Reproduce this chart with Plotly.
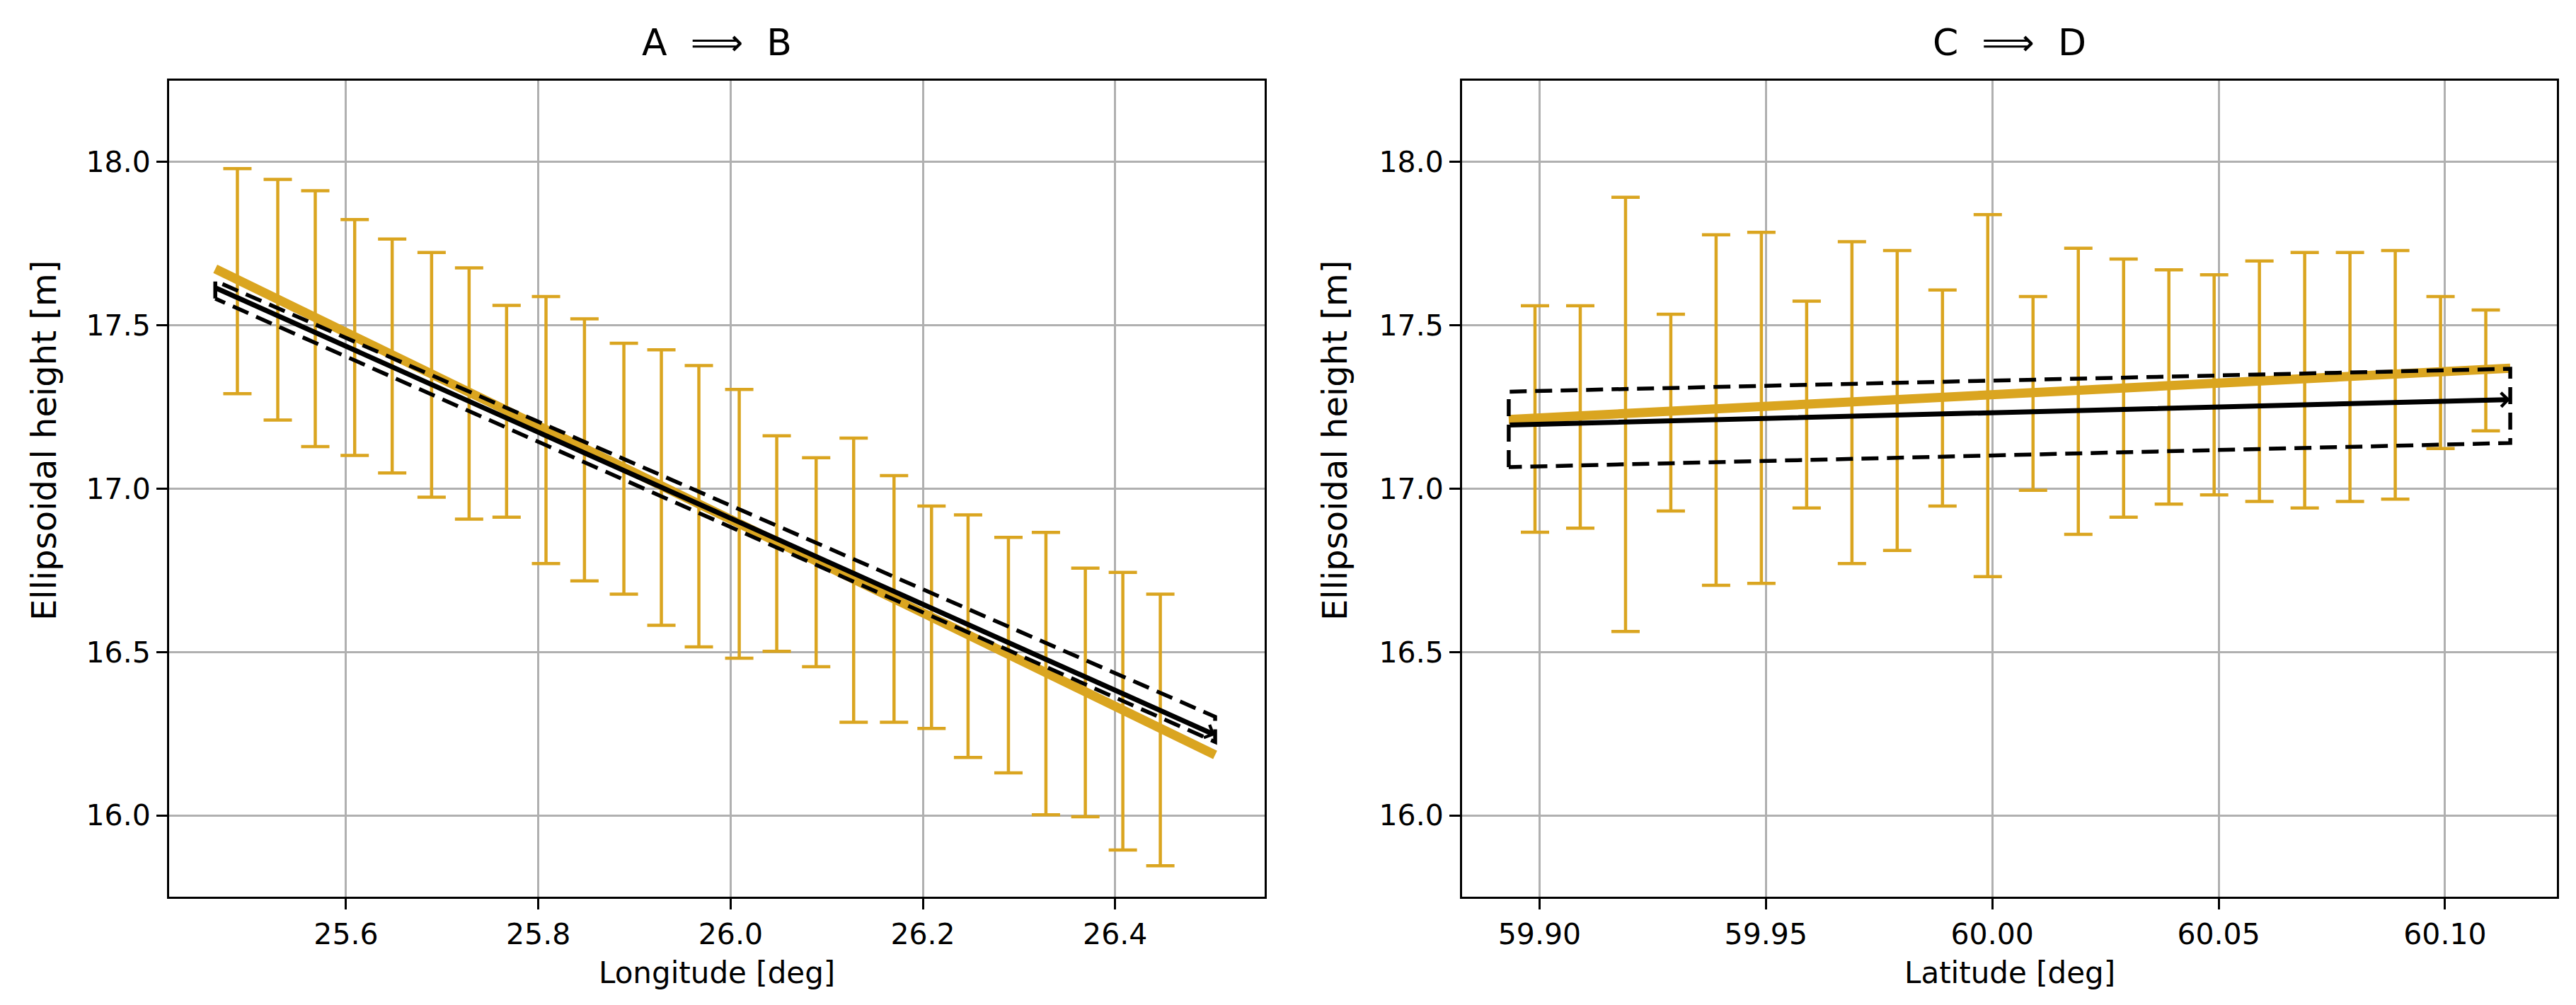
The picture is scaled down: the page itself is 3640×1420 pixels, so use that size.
import plotly.graph_objects as go

# ---- A => B (longitude) ----
lon_ab = [25.487, 25.529, 25.568, 25.609, 25.648, 25.689, 25.728, 25.767, 25.808, 25.848,
          25.889, 25.928, 25.967, 26.009, 26.048, 26.089, 26.128, 26.170, 26.209, 26.247,
          26.289, 26.328, 26.369, 26.408, 26.447]
top_ab = [17.980, 17.947, 17.912, 17.824, 17.764, 17.723, 17.676, 17.561, 17.588, 17.520,
          17.445, 17.425, 17.377, 17.304, 17.162, 17.095, 17.155, 17.040, 16.947, 16.920,
          16.851, 16.866, 16.757, 16.744, 16.677]
bot_ab = [17.291, 17.210, 17.129, 17.102, 17.048, 16.974, 16.907, 16.913, 16.771, 16.718,
          16.677, 16.582, 16.516, 16.481, 16.502, 16.455, 16.285, 16.285, 16.266, 16.177,
          16.130, 16.002, 15.996, 15.894, 15.846]
ends_ab = [25.464, 26.504]
fit_ab = [17.673, 16.185]       # gold line
ref_ab = [17.615, 16.246]       # black arrow
band_hi_ab = [17.636, 16.302]
band_lo_ab = [17.582, 16.225]

# ---- C => D (latitude) ----
lat_cd = [59.899, 59.909, 59.919, 59.929, 59.939, 59.949, 59.959, 59.969, 59.979, 59.989,
          59.999, 60.009, 60.019, 60.029, 60.039, 60.049, 60.059, 60.069, 60.079, 60.089,
          60.099, 60.109]
top_cd = [17.560, 17.560, 17.892, 17.534, 17.777, 17.785, 17.574, 17.756, 17.729, 17.608,
          17.839, 17.588, 17.736, 17.703, 17.670, 17.655, 17.697, 17.723, 17.723, 17.729,
          17.588, 17.547]
bot_cd = [16.867, 16.879, 16.563, 16.932, 16.704, 16.710, 16.941, 16.771, 16.811, 16.947,
          16.731, 16.995, 16.860, 16.913, 16.953, 16.981, 16.961, 16.941, 16.961, 16.968,
          17.123, 17.177]
ends_cd = [59.8932, 60.1144]
fit_cd = [17.212, 17.369]
ref_cd = [17.195, 17.273]
band_hi_cd = [17.297, 17.367]
band_lo_cd = [17.066, 17.140]

titles = ["A  \u27f9  B", "C  \u27f9  D"]
xlabels = ["Longitude [deg]", "Latitude [deg]"]
ylabel = "Ellipsoidal height [m]"

gold = '#DAA520'
FONT = 'DejaVu Sans'
W, H = 3640, 1420

fig = go.Figure()

panels = [
    (lon_ab, top_ab, bot_ab, ends_ab, fit_ab, ref_ab, band_hi_ab, band_lo_ab, 'x', 'y'),
    (lat_cd, top_cd, bot_cd, ends_cd, fit_cd, ref_cd, band_hi_cd, band_lo_cd, 'x2', 'y2'),
]

for xs, tops, bots, ends, fit, ref, bhi, blo, xa, ya in panels:
    mid = [(t + b) / 2 for t, b in zip(tops, bots)]
    half = [(t - b) / 2 for t, b in zip(tops, bots)]
    fig.add_trace(go.Scatter(
        x=xs, y=mid, mode='markers', xaxis=xa, yaxis=ya, showlegend=False,
        marker=dict(size=1, color='rgba(0,0,0,0)'),
        error_y=dict(type='data', array=half, color=gold, thickness=4.5, width=20)
    ))
    fig.add_trace(go.Scatter(
        x=ends, y=fit, mode='lines', xaxis=xa, yaxis=ya, showlegend=False,
        line=dict(color=gold, width=13)
    ))
    # dashed uncertainty outline
    fig.add_trace(go.Scatter(
        x=[ends[0], ends[0], ends[1], ends[1], ends[0]],
        y=[blo[0], bhi[0], bhi[1], blo[1], blo[0]],
        mode='lines', xaxis=xa, yaxis=ya, showlegend=False,
        line=dict(color='black', width=5.5, dash='24px,12px')
    ))
    fig.add_annotation(
        x=ends[1], y=ref[1], ax=ends[0], ay=ref[0],
        xref=xa, yref=ya, axref=xa, ayref=ya, text='',
        showarrow=True, arrowhead=4, arrowsize=0.55, arrowwidth=7,
        arrowcolor='black', standoff=0
    )

axis_common = dict(
    showline=True, mirror=True, linecolor='black', linewidth=3,
    ticks='outside', ticklen=15, tickwidth=3, tickcolor='black',
    showgrid=True, gridcolor='#b0b0b0', gridwidth=3, zeroline=False,
    tickfont=dict(family=FONT, size=41, color='black'),
)

x1_dom = [231 / W, 1779 / W]
x2_dom = [2058 / W, 3605 / W]
y_dom = [(H - 1259) / H, (H - 106) / H]

fig.update_layout(
    width=W, height=H,
    paper_bgcolor='white', plot_bgcolor='white',
    margin=dict(l=0, r=0, t=0, b=0),
    font=dict(family=FONT, color='black'),
    xaxis=dict(domain=x1_dom, anchor='y', range=[25.416, 26.5555],
               tick0=25.6, dtick=0.2, tickformat='.1f', **axis_common),
    yaxis=dict(domain=y_dom, anchor='x', range=[15.751, 18.249],
               tick0=16.0, dtick=0.5, tickformat='.1f', **axis_common),
    xaxis2=dict(domain=x2_dom, anchor='y2', range=[59.8829, 60.1247],
                tick0=59.9, dtick=0.05, tickformat='.2f', **axis_common),
    yaxis2=dict(domain=y_dom, anchor='x2', range=[15.751, 18.249],
                tick0=16.0, dtick=0.5, tickformat='.1f', **axis_common),
)

for dom, title, xl, ylx in [(x1_dom, titles[0], xlabels[0], 54), (x2_dom, titles[1], xlabels[1], 1878)]:
    cx = (dom[0] + dom[1]) / 2
    fig.add_annotation(text=title, x=cx, y=(H - 52) / H, xref='paper', yref='paper',
                       showarrow=False, xanchor='center', yanchor='middle',
                       font=dict(family=FONT, size=52, color='black'))
    fig.add_annotation(text=xl, x=cx, y=(H - 1366) / H, xref='paper', yref='paper',
                       showarrow=False, xanchor='center', yanchor='middle',
                       font=dict(family=FONT, size=42, color='black'))
    fig.add_annotation(text=ylabel, x=ylx / W, y=(H - 615) / H, xref='paper', yref='paper',
                       showarrow=False, xanchor='center', yanchor='middle', textangle=-90,
                       font=dict(family=FONT, size=48, color='black'))

fig.write_html("out.html")
